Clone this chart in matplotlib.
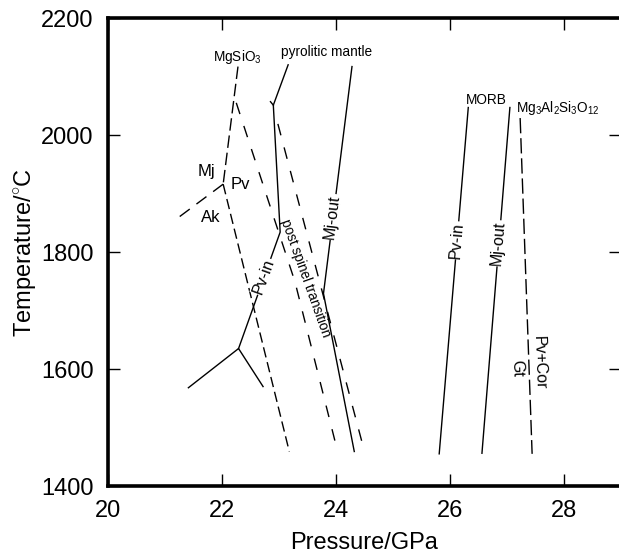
import matplotlib
matplotlib.use("Agg")
import matplotlib.pyplot as plt

plt.rcParams["font.family"] = "Liberation Sans"
plt.rcParams["mathtext.fontset"] = "custom"
plt.rcParams["mathtext.rm"] = "Liberation Sans"
plt.rcParams["mathtext.it"] = "Liberation Sans:italic"

# phase boundaries, pressure (GPa) vs temperature (C)
# MgSiO3
mgsio3_mj_pv_P = [22.28, 22.02]
mgsio3_mj_pv_T = [2117, 1916]
mgsio3_mj_ak_P = [22.02, 21.18]
mgsio3_mj_ak_T = [1916, 1855]
mgsio3_ak_pv_P = [22.02, 23.18]
mgsio3_ak_pv_T = [1916, 1459]
mgsio3_psp_P = [22.25, 22.74, 23.28, 24.02]
mgsio3_psp_T = [2055, 1909, 1749, 1462]

# pyrolitic mantle
pyr_psp_P = [22.98, 24.48]
pyr_psp_T = [2019, 1466]
pyr_pvin_P = [23.16, 22.90, 23.02, 22.29]
pyr_pvin_T = [2120, 2051, 1834, 1635]
pyr_stub_P = [22.90, 22.85]
pyr_stub_T = [2051, 2057]
pyr_low_P = [21.41, 22.29, 22.72]
pyr_low_T = [1568, 1635, 1570]
pyr_mjout_P = [24.28, 23.78, 24.32]
pyr_mjout_T = [2117, 1729, 1459]
pyr_tick_P = [23.92, 24.04]
pyr_tick_T = [1898, 1898]

# MORB
morb_pvin_P = [26.32, 25.81]
morb_pvin_T = [2047, 1455]
morb_mjout_P = [27.05, 26.56]
morb_mjout_T = [2047, 1456]

# Mg3Al2Si3O12 garnet breakdown
pyp_P = [27.23, 27.44]
pyp_T = [2029, 1455]

fig = plt.figure(figsize=(6.19, 5.54), dpi=100)
ax = fig.add_axes([0.1745, 0.1227, 0.8288, 0.8448])

lw = 1.0
ax.plot(mgsio3_mj_pv_P, mgsio3_mj_pv_T, color="k", lw=lw, dashes=(9, 3.5))
ax.plot(mgsio3_mj_ak_P, mgsio3_mj_ak_T, color="k", lw=lw, dashes=(9, 6))
ax.plot(mgsio3_ak_pv_P, mgsio3_ak_pv_T, color="k", lw=lw, dashes=(7.5, 3.5))
ax.plot(mgsio3_psp_P, mgsio3_psp_T, color="k", lw=lw, dashes=(8.5, 9))
ax.plot(pyr_psp_P, pyr_psp_T, color="k", lw=lw, dashes=(8.5, 9))
ax.plot(pyr_pvin_P, pyr_pvin_T, color="k", lw=lw)
ax.plot(pyr_stub_P, pyr_stub_T, color="k", lw=lw)
ax.plot(pyr_low_P, pyr_low_T, color="k", lw=lw)
ax.plot(pyr_mjout_P, pyr_mjout_T, color="k", lw=lw)
ax.plot(pyr_tick_P, pyr_tick_T, color="k", lw=0.8)
ax.plot(morb_pvin_P, morb_pvin_T, color="k", lw=lw)
ax.plot(morb_mjout_P, morb_mjout_T, color="k", lw=lw)
ax.plot(pyp_P, pyp_T, color="k", lw=lw, dashes=(11, 3.5))

# labels
box = dict(facecolor="white", edgecolor="none", pad=0.6)
small = 9.8
mid = 12
ax.text(22.26, 2133, "MgSiO$_3$", fontsize=small, ha="center", va="center")
ax.text(23.84, 2142, "pyrolitic mantle", fontsize=small, ha="center", va="center")
ax.text(26.64, 2060, "MORB", fontsize=small, ha="center", va="center")
ax.text(27.16, 2046, "Mg$_3$Al$_2$Si$_3$O$_{12}$", fontsize=small, ha="left", va="center")
ax.text(21.72, 1938, "Mj", fontsize=mid, ha="center", va="center")
ax.text(22.33, 1916, "Pv", fontsize=mid, ha="center", va="center")
ax.text(21.81, 1859, "Ak", fontsize=mid, ha="center", va="center")
ax.text(22.73, 1758, "Pv-in", fontsize=11.5, ha="center", va="center",
        rotation=70, rotation_mode="anchor", bbox=box)
ax.text(23.47, 1756, "post spinel transition", fontsize=small, ha="center", va="center",
        rotation=-70.3, rotation_mode="anchor")
ax.text(23.93, 1860, "Mj-out", fontsize=11.5, ha="center", va="center",
        rotation=83, rotation_mode="anchor", bbox=box)
ax.text(26.12, 1820, "Pv-in", fontsize=11.5, ha="center", va="center",
        rotation=85.2, rotation_mode="anchor", bbox=box)
ax.text(26.84, 1815, "Mj-out", fontsize=11.5, ha="center", va="center",
        rotation=85.3, rotation_mode="anchor", bbox=box)
ax.text(27.56, 1611, "Pv+Cor", fontsize=11.5, ha="center", va="center",
        rotation=-88, rotation_mode="anchor")
ax.text(27.17, 1602, "Gt", fontsize=11.5, ha="center", va="center",
        rotation=-88, rotation_mode="anchor")

ax.set_xlim(20, 29)
ax.set_ylim(1400, 2200)
ax.set_xticks([20, 22, 24, 26, 28])
ax.set_yticks([1400, 1600, 1800, 2000, 2200])
ax.tick_params(axis="both", direction="in", length=8.5, width=1.0,
               top=True, right=True, labelsize=17)
ax.tick_params(axis="x", pad=10)
ax.tick_params(axis="y", pad=10.5)
for s in ax.spines.values():
    s.set_linewidth(2.6)

ax.set_xlabel("Pressure/GPa", fontsize=17, labelpad=7)
ax.set_ylabel("Temperature/$^{\\circ}$C", fontsize=17, labelpad=2)

fig.savefig("out.png", dpi=100)
